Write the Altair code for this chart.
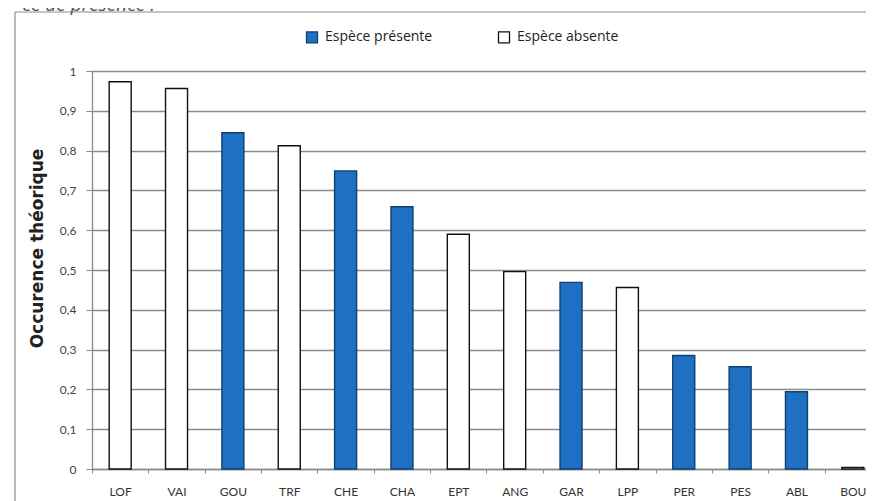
import altair as alt
import pandas as pd

especes = ["LOF", "VAI", "GOU", "TRF", "CHE", "CHA", "EPT", "ANG", "GAR", "LPP", "PER", "PES", "ABL", "BOU"]
occurence = [0.973, 0.956, 0.845, 0.812, 0.749, 0.659, 0.590, 0.496, 0.469, 0.456, 0.285, 0.257, 0.194, 0.004]
presence = [False, False, True, False, True, True, False, False, True, False, True, True, True, False]

PRES = "Espèce présente"
ABS = "Espèce absente"
statut = [PRES if p else ABS for p in presence]

df = pd.DataFrame({"espece": especes, "occ": occurence, "statut": statut})

BLUE = "#1f6fc3"
NAVY = "#10406f"
GRID = "#8a8a8a"
FONT = "Lato"

x = alt.X(
    "espece:N",
    sort=especes,
    scale=alt.Scale(paddingInner=0, paddingOuter=0, range=[0, 789]),
    axis=alt.Axis(
        title=None, labelAngle=0, tickBand="extent", tickSize=4, tickColor=GRID,
        domainColor=GRID, domainWidth=1.3, labelFont=FONT, labelFontSize=12,
        labelColor="#333333", labelPadding=13, grid=False,
    ),
)

y = alt.Y(
    "occ:Q",
    scale=alt.Scale(domain=[0, 1], nice=False),
    axis=alt.Axis(
        title="Occurence théorique", values=[i / 10 for i in range(11)],
        labelExpr="replace(format(datum.value, '.1~f'), '.', ',')",
        labelFont=FONT, labelFontSize=12, labelColor="#444444", labelPadding=10,
        tickSize=6, tickColor=GRID, domainColor=GRID, domainWidth=1.3,
        grid=True, gridColor=GRID, gridWidth=1.3,
        titleFont="DejaVu Sans", titleFontSize=17, titleFontWeight="bold",
        titleColor="#222222", titleAngle=-90, titleX=-55, titleY=177,
        titleAlign="center", titleBaseline="middle",
    ),
)

legend = alt.Legend(
    orient="none", legendX=213, legendY=-41, direction="horizontal", title=None,
    symbolType="square", symbolSize=121, symbolStrokeWidth=1.3,
    labelFont="Open Sans", labelFontSize=14, labelColor="#222222",
    columnPadding=62, labelOffset=6,
)

bars = alt.Chart(df).mark_bar(strokeWidth=1.4, width=22).encode(
    x=x,
    y=y,
    color=alt.Color("statut:N", scale=alt.Scale(domain=[PRES, ABS], range=[BLUE, "#ffffff"]), legend=legend),
    stroke=alt.Stroke("statut:N", scale=alt.Scale(domain=[PRES, ABS], range=[NAVY, "#111111"]), legend=legend),
)

one = pd.DataFrame({"k": [0]})
frame_top = alt.Chart(one).mark_rule(stroke="#8c8c8c", strokeWidth=1.2).encode(
    x=alt.value(-77), x2=alt.value(790), y=alt.value(-59)
)
frame_left = alt.Chart(one).mark_rule(stroke="#8c8c8c", strokeWidth=1.2).encode(
    x=alt.value(-77), y=alt.value(-59), y2=alt.value(440)
)

caption = alt.Chart(pd.DataFrame({"t": ["ce de présence :"]})).mark_text(
    align="right", baseline="alphabetic", font="Open Sans", fontSize=19,
    fontStyle="italic", color="#555555"
).encode(text="t:N", x=alt.value(63), y=alt.value(-60))

chart = alt.layer(frame_top, frame_left, bars, caption).properties(
    width=774, height=398,
    autosize=alt.AutoSizeParams(type="none"),
    padding={"left": 84, "top": 63, "right": 0, "bottom": 32},
    background="white",
).configure_view(stroke=None)

chart.save("out.html", embed_options={"renderer": "svg", "actions": False})
